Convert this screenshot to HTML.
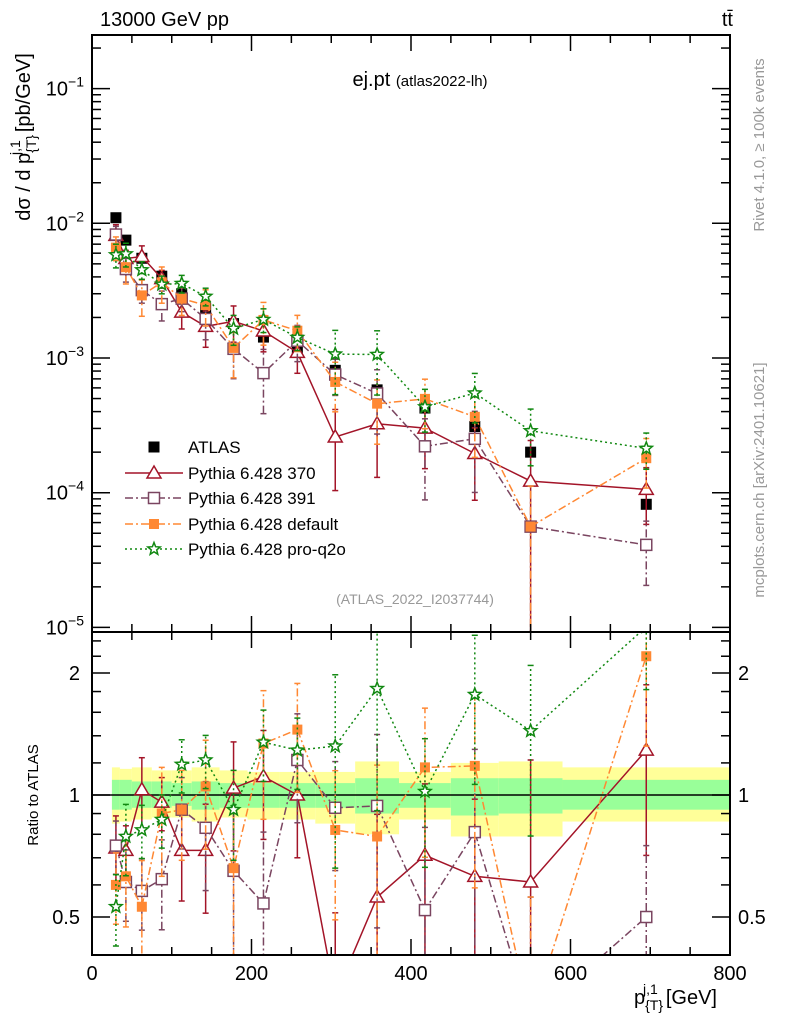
<!DOCTYPE html>
<html><head><meta charset="utf-8">
<style>
html,body{margin:0;padding:0;background:#fff;overflow:hidden;width:786px;height:1024px;}
svg{display:block;}
svg text{font-family:"Liberation Sans",sans-serif;}
</style></head>
<body>
<svg id="c" width="786" height="1024" xmlns="http://www.w3.org/2000/svg">
<defs>
<clipPath id="cm"><rect x="92" y="35" width="638" height="597"/></clipPath>
<clipPath id="cr"><rect x="92" y="632" width="638" height="323"/></clipPath>
</defs>
<g id="bands" clip-path="url(#cr)"></g>
<g id="marks"></g>
<rect x="92" y="35" width="638" height="597" fill="none" stroke="#000" stroke-width="2"/>
<rect x="92" y="632" width="638" height="323" fill="none" stroke="#000" stroke-width="2"/>
<g id="axes"></g>
<text x="100" y="26" font-size="20">13000 GeV pp</text>
<text x="733" y="26" font-size="20" text-anchor="end">tt̄</text>
<text x="420" y="86" font-size="20" text-anchor="middle">ej.pt <tspan font-size="15">(atlas2022-lh)</tspan></text>
<text x="415" y="604" font-size="14" fill="#999" text-anchor="middle">(ATLAS_2022_I2037744)</text>
<text transform="translate(764,145) rotate(-90)" font-size="15" fill="#999" text-anchor="middle">Rivet 4.1.0, ≥ 100k events</text>
<text transform="translate(764,480) rotate(-90)" font-size="15" fill="#999" text-anchor="middle">mcplots.cern.ch [arXiv:2401.10621]</text>
<text transform="translate(30,137) rotate(-90)" font-size="20" text-anchor="middle">dσ / d p<tspan font-size="14" dy="6">{T}</tspan><tspan font-size="14" dx="-20" dy="-16">j,1</tspan><tspan dx="8" dy="10">[pb/GeV]</tspan></text>
<text transform="translate(38,795) rotate(-90)" font-size="15" text-anchor="middle">Ratio to ATLAS</text>
<text x="634" y="1004" font-size="20">p<tspan font-size="14" dy="6">{T}</tspan><tspan font-size="14" dx="-20" dy="-16">j,1</tspan><tspan dx="8" dy="10">[GeV]</tspan></text>
<g id="legend"></g>
</svg>
<script>
const edges=[25,35,50,75,100,125,160,195,235,280,330,385,450,510,590,800];
const centers=[30,42.5,62.5,87.5,112.5,142.5,177.5,215,257.5,305,357.5,417.5,480,550,695];
const atlas=[1.1e-2,7.5e-3,5.5e-3,4.05e-3,3.0e-3,2.35e-3,1.8e-3,1.43e-3,1.1e-3,8.1e-4,5.8e-4,4.25e-4,3.1e-4,2.0e-4,8.2e-5];
const r370=[0.74,0.73,1.03,0.96,0.73,0.73,1.04,1.11,1.0,0.32,0.56,0.71,0.63,0.61,1.29];
const r391=[0.75,0.61,0.58,0.62,0.92,0.83,0.65,0.54,1.22,0.93,0.94,0.52,0.81,0.28,0.50];
const rdef=[0.6,0.63,0.53,0.9,0.92,1.05,0.66,1.34,1.45,0.82,0.79,1.17,1.18,0.28,2.2];
const rq2o=[0.53,0.79,0.82,0.87,1.19,1.22,0.92,1.35,1.29,1.32,1.83,1.02,1.77,1.44,2.6];
const e370=[0.2,0.15,0.2,0.15,0.25,0.3,0.3,0.3,0.3,0.6,0.6,0.5,0.55,1.0,0.45];
const e391=[0.15,0.2,0.2,0.25,0.2,0.3,0.4,0.5,0.3,0.3,0.5,0.6,0.6,1.0,0.5];
const edef=[0.2,0.25,0.3,0.3,0.25,0.3,0.4,0.35,0.3,0.4,0.5,0.4,0.5,1.0,0.4];
const eq2o=[0.2,0.2,0.15,0.15,0.15,0.15,0.25,0.2,0.2,0.5,0.5,0.35,0.4,0.45,0.3];
const yelUp=[1.17,1.16,1.17,1.15,1.15,1.17,1.15,1.14,1.14,1.14,1.21,1.14,1.2,1.21,1.17];
const yelDn=[0.85,0.86,0.87,0.88,0.88,0.86,0.88,0.87,0.87,0.85,0.8,0.87,0.79,0.79,0.86];
const grnUp=[1.09,1.09,1.08,1.08,1.07,1.08,1.07,1.07,1.07,1.07,1.1,1.07,1.1,1.1,1.09];
const grnDn=[0.92,0.92,0.93,0.93,0.94,0.92,0.93,0.93,0.93,0.93,0.9,0.93,0.89,0.9,0.92];
const xTicks=[0,200,400,600,800];
const yTicks=[-5,-4,-3,-2,-1];
const rTicks=[0.5,1,2];

const NS="http://www.w3.org/2000/svg";
const X=v=>92+0.7975*v;
const Y=v=>358-134.7*Math.log10(v/1e-3);
const R=v=>795-122*Math.log2(v);
function mk(p,tag,at){const e=document.createElementNS(NS,tag);for(const k in at)e.setAttribute(k,at[k]);p.appendChild(e);return e;}
const bands=document.getElementById('bands'),marks=document.getElementById('marks'),axes=document.getElementById('axes'),leg=document.getElementById('legend');

for(let i=0;i<centers.length;i++){
  let r=mk(bands,'rect',{x:X(edges[i]),y:R(yelUp[i]),width:X(edges[i+1])-X(edges[i]),height:R(yelDn[i])-R(yelUp[i]),fill:'#ffff99'});
  
  
  let g=mk(bands,'rect',{x:X(edges[i]),y:R(grnUp[i]),width:X(edges[i+1])-X(edges[i]),height:R(grnDn[i])-R(grnUp[i]),fill:'#99ff99'});
  
  
}
let one=mk(bands,'line',{x1:92,x2:730,y1:R(1),y2:R(1),stroke:'#000','stroke-width':1.5});



function marker(p,type,x,y,col){
  let e;
  if(type==='tri') e=mk(p,'polygon',{points:`${x},${y-7} ${x-7},${y+5} ${x+7},${y+5}`,fill:'#fff',stroke:col,'stroke-width':1.5});
  else if(type==='osq') e=mk(p,'rect',{x:x-5.5,y:y-5.5,width:11,height:11,fill:'#fff',stroke:col,'stroke-width':1.5});
  else if(type==='fsq') e=mk(p,'rect',{x:x-5,y:y-5,width:10,height:10,fill:col});
  else if(type==='blk') e=mk(p,'rect',{x:x-5.5,y:y-5.5,width:11,height:11,fill:'#000'});
  else {let pts=[];for(let k=0;k<10;k++){const a=-Math.PI/2+k*Math.PI/5,rr=k%2?2.8:6.5;pts.push((x+rr*Math.cos(a)).toFixed(1)+','+(y+rr*Math.sin(a)).toFixed(1));}
    e=mk(p,'polygon',{points:pts.join(' '),fill:'#fff',stroke:col,'stroke-width':1.5});}
  return e;
}
const series=[
 {n:'pythia-370',lab:'Pythia 6.428 370',r:r370,e:e370,col:'#a31428',m:'tri',d:''},
 {n:'pythia-391',lab:'Pythia 6.428 391',r:r391,e:e391,col:'#7a4560',m:'osq',d:'8,3,2,3'},
 {n:'pythia-default',lab:'Pythia 6.428 default',r:rdef,e:edef,col:'#ff8833',m:'fsq',d:'8,3,2,3'},
 {n:'pythia-pro-q2o',lab:'Pythia 6.428 pro-q2o',r:rq2o,e:eq2o,col:'#118811',m:'star',d:'2,3'}
];
function drawPanel(clip,fy,valFn,panel){
  const g=mk(marks,'g',{'clip-path':`url(#${clip})`});
  
  
  series.forEach(s=>{
    const sg=mk(g,'g',{});
    
    
    const pts=centers.map((c,i)=>X(c)+','+fy(valFn(s,i)).toFixed(1)).join(' ');
    const ln=mk(sg,'polyline',{points:pts,fill:'none',stroke:s.col,'stroke-width':1.5,'stroke-dasharray':s.d});
    
    centers.forEach((c,i)=>{
      const v=valFn(s,i),lo=Math.max(v*(1-s.e[i]),v*1e-3),hi=v*(1+s.e[i]);
      const x=X(c);
      mk(sg,'line',{x1:x,x2:x,y1:fy(lo),y2:fy(hi),stroke:s.col,'stroke-width':1.5,'stroke-dasharray':s.d});
      mk(sg,'line',{x1:x-3,x2:x+3,y1:fy(hi),y2:fy(hi),stroke:s.col,'stroke-width':1.5});
      mk(sg,'line',{x1:x-3,x2:x+3,y1:fy(lo),y2:fy(lo),stroke:s.col,'stroke-width':1.5});
      const m=marker(sg,s.m,x,fy(v),s.col);
      
      
    });
  });
  return g;
}
const ga=mk(marks,'g',{'clip-path':'url(#cm)'});


centers.forEach((c,i)=>{const m=marker(ga,'blk',X(c),Y(atlas[i]));
 
 });
drawPanel('cm',Y,(s,i)=>s.r[i]*atlas[i],'main');
drawPanel('cr',R,(s,i)=>s.r[i],'ratio');

function tk(x1,y1,x2,y2){mk(axes,'line',{x1,y1,x2,y2,stroke:'#000','stroke-width':1.5});}
for(let v=0;v<=800;v+=50){const x=X(v),L=v%200===0?16:8;
  tk(x,632,x,632-L);tk(x,35,x,35+L);tk(x,955,x,955-L);tk(x,632,x,632+L);}
xTicks.forEach(v=>{const t=mk(axes,'text',{x:X(v),y:980,'font-size':20,'text-anchor':'middle'});t.textContent=v;
 
 });
for(let d=-5;d<=-1;d++){for(let k=1;k<10;k++){const y=Y(k*Math.pow(10,d));if(y<35||y>632)continue;const L=k===1?18:9;tk(92,y,92+L,y);tk(730,y,730-L,y);}}
yTicks.forEach(d=>{const t=mk(axes,'text',{x:84,y:Y(Math.pow(10,d))+7,'font-size':20,'text-anchor':'end'});
 t.innerHTML='10<tspan font-size="14" dy="-9">−'+(-d)+'</tspan>';
 
 });
[0.4,0.5,0.6,0.7,0.8,0.9,1,1.2,1.4,1.6,1.8,2,2.2,2.4].forEach(v=>{const y=R(v);if(y<632||y>955)return;const L=(v===0.5||v===1||v===2)?18:9;tk(92,y,92+L,y);tk(730,y,730-L,y);});
rTicks.forEach(v=>{const y=R(v)+7;
 const t=mk(axes,'text',{x:80,y,'font-size':20,'text-anchor':'end'});t.textContent=v;
 
 
 const t2=mk(axes,'text',{x:738,y,'font-size':20});t2.textContent=v;
 
 });

const ly=[447,473,498,524,549];
const le0=mk(leg,'g',{});


marker(le0,'blk',154,ly[0]);
let tt=mk(le0,'text',{x:188,y:ly[0]+6,'font-size':17});tt.textContent='ATLAS';
series.forEach((s,i)=>{const g=mk(leg,'g',{});
 
 
 const y=ly[i+1];mk(g,'line',{x1:125,x2:183,y1:y,y2:y,stroke:s.col,'stroke-width':1.5,'stroke-dasharray':s.d});
 marker(g,s.m,154,y,s.col);
 const t=mk(g,'text',{x:188,y:y+6,'font-size':17});t.textContent=s.lab;});
</script>
</body></html>
